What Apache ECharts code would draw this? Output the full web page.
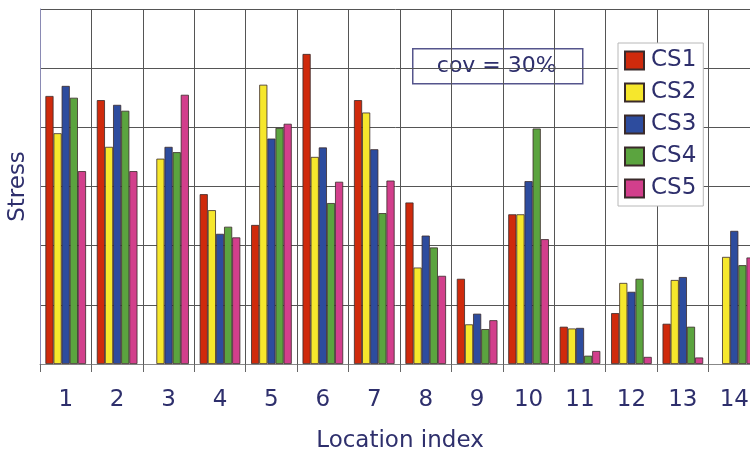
<!DOCTYPE html>
<html>
<head>
<meta charset="utf-8">
<script src="https://cdn.jsdelivr.net/npm/echarts@6/dist/echarts.min.js"></script>
<style>
html,body{margin:0;padding:0;background:#fff;}
#chart{width:750px;height:452px;}
</style>
</head>
<body>
<div id="chart"></div>
<script>
var categories = ['1','2','3','4','5','6','7','8','9','10','11','12','13','14'];
var seriesNames = ['CS1','CS2','CS3','CS4','CS5'];
var cs1 = [4.53, 4.46, null, 2.87, 2.35, 5.24, 4.46, 2.73, 1.44, 2.53, 0.63, 0.86, 0.68, null];
var cs2 = [3.90, 3.67, 3.47, 2.60, 4.72, 3.50, 4.25, 1.63, 0.67, 2.53, 0.60, 1.37, 1.42, 1.81];
var cs3 = [4.70, 4.38, 3.67, 2.20, 3.81, 3.66, 3.63, 2.17, 0.85, 3.09, 0.61, 1.22, 1.47, 2.25];
var cs4 = [4.50, 4.28, 3.58, 2.32, 3.99, 2.72, 2.55, 1.97, 0.59, 3.98, 0.14, 1.44, 0.63, 1.67];
var cs5 = [3.26, 3.26, 4.55, 2.14, 4.06, 3.08, 3.10, 1.49, 0.74, 2.11, 0.22, 0.12, 0.11, 1.80];
var seriesValues = [cs1, cs2, cs3, cs4, cs5];
var colors = ['#cf2a0c', '#f6e72c', '#2d4c9e', '#5ba43f', '#d23f8c'];
var annotationText = 'cov = 30%';
var xTitle = 'Location index';
var yTitle = 'Stress';

var FONT = 'DejaVu Sans';
var NAVY = '#2e2f6c';

var chart = echarts.init(document.getElementById('chart'), null, {renderer: 'canvas'});

var series = seriesNames.map(function (n, i) {
  return {
    name: n,
    type: 'bar',
    data: seriesValues[i].map(function (v) { return v === null ? '-' : v; }),
    barGap: '0%',
    barCategoryGap: '21%',
    itemStyle: {color: colors[i], borderColor: '#3a2a2a', borderWidth: 0.8},
    emphasis: {disabled: true},
    animation: false
  };
});

chart.setOption({
  animation: false,
  backgroundColor: '#ffffff',
  grid: {left: 40, top: 9, width: 720, height: 355, containLabel: false, outerBoundsMode: 'none'},
  legend: {
    orient: 'vertical',
    left: 618,
    top: 43,
    padding: [6, 7, 6, 6],
    itemWidth: 19,
    itemHeight: 18,
    itemGap: 9,
    backgroundColor: '#ffffff',
    borderColor: '#b8b8b8',
    borderWidth: 1,
    icon: 'rect',
    data: seriesNames,
    textStyle: {fontFamily: FONT, fontSize: 23, color: NAVY, padding: [0, 0, 0, 2]}
  },
  xAxis: {
    type: 'category',
    data: categories,
    boundaryGap: true,
    axisLine: {show: true, lineStyle: {color: '#888888', width: 1}},
    axisTick: {show: true, length: 8, lineStyle: {color: '#666666'}},
    axisLabel: {fontFamily: FONT, fontSize: 23, color: NAVY, margin: 25, interval: 0},
    splitLine: {show: true, interval: 0, lineStyle: {color: '#555555', width: 1}},
    name: xTitle,
    nameLocation: 'middle',
    nameGap: 66,
    nameTextStyle: {fontFamily: FONT, fontSize: 23, color: NAVY}
  },
  yAxis: {
    type: 'value',
    min: 0,
    max: 6,
    interval: 1,
    axisLine: {show: true, lineStyle: {color: '#8a8ab4', width: 1}},
    axisTick: {show: false},
    axisLabel: {show: false},
    splitLine: {show: true, lineStyle: {color: '#555555', width: 1}},
    name: yTitle,
    nameLocation: 'middle',
    nameRotate: 90,
    nameGap: 10,
    nameTextStyle: {fontFamily: FONT, fontSize: 23, color: NAVY}
  },
  graphic: [{
    type: 'group',
    left: 412,
    top: 48,
    children: [{
      type: 'rect',
      shape: {x: 0, y: 0, width: 170, height: 35},
      style: {fill: '#ffffff', stroke: '#55558c', lineWidth: 1.5}
    }, {
      type: 'text',
      x: 84,
      y: 18,
      style: {text: annotationText, fontFamily: FONT, fontSize: 22, fill: NAVY, align: 'center', verticalAlign: 'middle'}
    }]
  }],
  series: series
});
</script>
</body>
</html>
